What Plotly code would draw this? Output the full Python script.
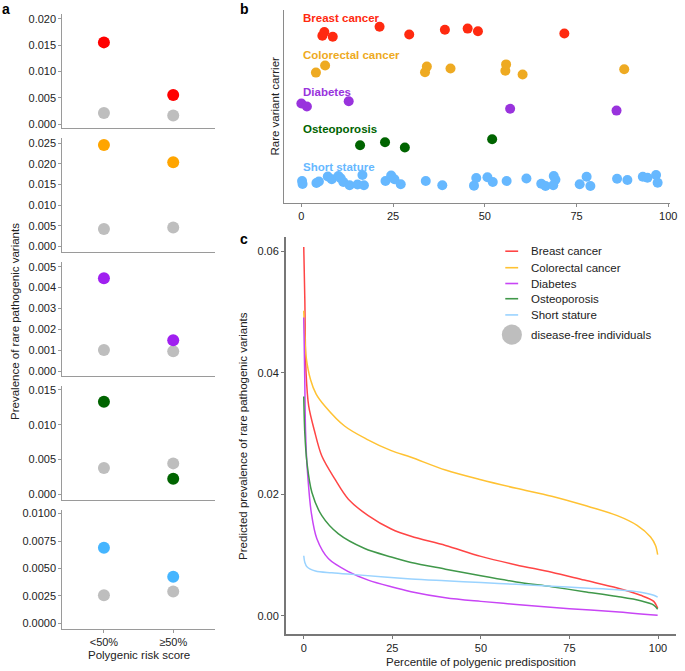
import plotly.graph_objects as go

W, H = 685, 671

# ---------------- data ----------------
risk_groups = ["<50%", "≥50%"]
diseases = ["Breast cancer", "Colorectal cancer", "Diabetes", "Osteoporosis", "Short stature"]

# panel a: prevalence of rare pathogenic variants (carriers of disease vs disease-free)
breast_case = [0.0155, 0.0055]
breast_free = [0.0021, 0.0016]
colorectal_case = [0.0246, 0.0204]
colorectal_free = [0.0042, 0.0046]
diabetes_case = [0.00445, 0.00148]
diabetes_free = [0.00102, 0.00096]
osteo_case = [0.0133, 0.00225]
osteo_free = [0.0038, 0.00446]
stature_case = [0.0069, 0.00425]
stature_free = [0.00256, 0.0029]

# panel b: percentile of rare variant carriers (y = row + jitter)
breast_pct = [5.72, 6.26, 8.55, 21.31, 29.40, 39.12, 45.32, 48.13, 71.68]
breast_row = [4.87, 4.97, 4.84, 5.11, 4.90, 5.03, 5.06, 4.99, 4.93]
colorectal_pct = [3.97, 6.47, 33.7, 34.2, 40.65, 55.6, 55.8, 60.3, 88.0]
colorectal_row = [3.88, 4.07, 3.89, 4.04, 3.99, 3.93, 4.10, 3.83, 3.97]
diabetes_pct = [0.0, 1.5, 12.9, 56.9, 85.9]
diabetes_row = [3.05, 2.97, 3.11, 2.91, 2.86]
osteo_pct = [16.0, 22.8, 28.2, 52.0]
osteo_row = [1.93, 2.01, 1.87, 2.09]
stature_pct = [0.19, 0.32, 4.10, 4.77, 7.20, 8.28, 10.09, 10.71, 11.44, 13.14, 15.30,
               16.64, 17.05, 22.93, 24.47, 25.36, 27.08, 33.91, 38.41, 47.05, 47.67,
               50.72, 52.17, 55.95, 61.34, 65.39, 66.55, 68.79, 69.25, 68.65, 75.86,
               77.75, 78.77, 86.05, 88.86, 93.07, 94.33, 96.68, 97.11]
stature_row = [0.973, 0.893, 0.92, 0.96, 1.093, 1.019, 1.107, 1.045, 0.947, 0.859, 0.88,
               1.133, 0.859, 0.973, 1.12, 1.019, 0.885, 0.973, 0.859, 0.848, 1.053,
               1.075, 0.947, 0.973, 1.04, 0.899, 0.84, 1.107, 1.005, 0.859, 0.885,
               1.085, 0.84, 1.032, 1.0, 1.085, 1.061, 1.133, 0.928]

# panel c: predicted prevalence vs percentile
breast_c_x = [0, 0.3, 0.65, 1.4, 3.0, 5.1, 8.8, 12.6, 18.2, 24.7, 30.3, 40, 50, 60, 70, 79.2, 88.5, 95.1, 98.8, 99.9]
breast_c_y = [0.0607, 0.052, 0.040, 0.0345, 0.0305, 0.0263, 0.0225, 0.0192, 0.0165, 0.0143, 0.0131,
              0.0116, 0.0098, 0.0084, 0.0072, 0.0059, 0.0046, 0.0034, 0.0024, 0.0013]
colorectal_c_x = [0, 0.3, 0.65, 1.9, 3.5, 6.0, 11.6, 17.7, 24.7, 30.3, 40, 50, 60, 70, 79.2, 88.5, 94.1, 97.9, 99.3, 99.9]
colorectal_c_y = [0.0502, 0.046, 0.0427, 0.0389, 0.0365, 0.0345, 0.0312, 0.0291, 0.0272, 0.0261, 0.0240,
                  0.0224, 0.0210, 0.0197, 0.0182, 0.0165, 0.0149, 0.0130, 0.0116, 0.0101]
diabetes_c_x = [0, 0.15, 0.3, 0.5, 0.8, 1.2, 2.1, 3.7, 7.0, 12.6, 18.2, 24.7, 30.3, 40, 50, 60, 75, 88, 99.9]
diabetes_c_y = [0.0491, 0.044, 0.038, 0.0305, 0.026, 0.0225, 0.0171, 0.0127, 0.0094, 0.0073, 0.0059,
                0.0048, 0.0040, 0.0030, 0.0024, 0.0019, 0.0012, 0.0007, 0.0001]
osteo_c_x = [0, 0.3, 0.9, 2.3, 5.1, 9.8, 17.2, 24.7, 30.3, 40, 50, 60, 70, 79.2, 88.5, 95.1, 98.8, 99.9]
osteo_c_y = [0.0361, 0.030, 0.0252, 0.0203, 0.0165, 0.0135, 0.0111, 0.0097, 0.0088, 0.0077, 0.0066,
             0.0056, 0.0048, 0.0040, 0.0032, 0.0025, 0.0018, 0.0011]
stature_c_x = [0, 0.3, 0.9, 3.3, 7.9, 14.4, 30.3, 40, 50, 60, 70, 79.2, 88.5, 95.1, 98.8, 99.9]
stature_c_y = [0.0099, 0.0088, 0.0081, 0.0074, 0.0071, 0.0068, 0.0061, 0.0058, 0.0055, 0.0052,
               0.0049, 0.0046, 0.0043, 0.0039, 0.0034, 0.0031]

# ---------------- styling ----------------
FONT = "Liberation Sans, Arial, Helvetica, sans-serif"
TXT = "#222222"
GREY = "#BEBEBE"
a_colors = ["#FF0000", "#FFA500", "#A020F0", "#006400", "#45B5FF"]
b_colors = ["#FF2A10", "#EEAA22", "#9933DD", "#006400", "#66B8FF"]
c_colors = ["#FF4545", "#FFC233", "#C845F5", "#40984A", "#9AD3FF"]


def px(x):
    return x / W


def py(y):
    return 1 - y / H


fig = go.Figure()

a_case = [breast_case, colorectal_case, diabetes_case, osteo_case, stature_case]
a_free = [breast_free, colorectal_free, diabetes_free, osteo_free, stature_free]
a_yrange = [[-0.0008, 0.0209], [-0.00125, 0.02625], [-0.00025, 0.00522], [-0.00075, 0.0156], [-0.0005, 0.01036]]
a_dtick = [0.005, 0.005, 0.001, 0.005, 0.0025]
a_fmt = [".3f", ".3f", ".3f", ".3f", ".4f"]
a_dom = [(12, 127), (137, 251), (261.7, 376.7), (386, 500.7), (510.7, 630.7)]

layout = {}
for i in range(5):
    sx = "" if i == 0 else str(i + 1)
    fig.add_trace(go.Scatter(x=risk_groups, y=a_free[i], mode="markers",
                             marker=dict(size=12, color=GREY), xaxis="x" + sx, yaxis="y" + sx,
                             showlegend=False, hoverinfo="skip"))
    fig.add_trace(go.Scatter(x=risk_groups, y=a_case[i], mode="markers",
                             marker=dict(size=12, color=a_colors[i]), xaxis="x" + sx, yaxis="y" + sx,
                             showlegend=False))
    last = i == 4
    layout["xaxis" + sx] = dict(
        domain=[px(63), px(217)], anchor="y" + sx, type="category",
        categoryorder="array", categoryarray=risk_groups, range=[-0.6, 1.6],
        showline=True, linecolor="#9a9a9a", linewidth=1.2, showgrid=False, zeroline=False,
        ticks="outside" if last else "", ticklen=3, tickcolor="#9a9a9a",
        showticklabels=last, tickfont=dict(size=11, color=TXT, family=FONT))
    layout["yaxis" + sx] = dict(
        domain=[py(a_dom[i][1]), py(a_dom[i][0])], anchor="x" + sx, range=a_yrange[i],
        tick0=0, dtick=a_dtick[i], tickformat=a_fmt[i],
        showline=True, linecolor="#9a9a9a", linewidth=1.2, showgrid=False, zeroline=False,
        ticks="outside", ticklen=3, tickcolor="#9a9a9a",
        tickfont=dict(size=11, color=TXT, family=FONT))

# panel b
b_x = [breast_pct, colorectal_pct, diabetes_pct, osteo_pct, stature_pct]
b_y = [breast_row, colorectal_row, diabetes_row, osteo_row, stature_row]
for i in range(5):
    fig.add_trace(go.Scatter(x=b_x[i], y=b_y[i], mode="markers",
                             marker=dict(size=10, color=b_colors[i]),
                             xaxis="x6", yaxis="y6", showlegend=False, name=diseases[i]))
layout["xaxis6"] = dict(domain=[px(286.7), px(677)], anchor="y6", range=[-4.8, 100.5],
                        tickvals=[0, 25, 50, 75, 100], showline=True, linecolor="#8a8a8a",
                        linewidth=1.3, showgrid=False, zeroline=False, ticks="outside", ticklen=3,
                        tickcolor="#8a8a8a", tickfont=dict(size=11, color=TXT, family=FONT))
layout["yaxis6"] = dict(domain=[py(202.3), py(8)], anchor="x6", range=[0.38, 5.56],
                        showline=True, linecolor="#8a8a8a", linewidth=1.3, showgrid=False,
                        zeroline=False, showticklabels=False, ticks="")

# panel c
c_x = [breast_c_x, colorectal_c_x, diabetes_c_x, osteo_c_x, stature_c_x]
c_y = [breast_c_y, colorectal_c_y, diabetes_c_y, osteo_c_y, stature_c_y]
for i in range(5):
    fig.add_trace(go.Scatter(x=c_x[i], y=c_y[i], mode="lines",
                             line=dict(color=c_colors[i], width=1.5, shape="spline", smoothing=0.9),
                             xaxis="x7", yaxis="y7", showlegend=False, name=diseases[i]))
layout["xaxis7"] = dict(domain=[px(289), px(682.7)], anchor="y7", range=[-5, 105],
                        tickvals=[0, 25, 50, 75, 100], showline=True, linecolor="#777777",
                        linewidth=2, showgrid=False, zeroline=False, ticks="outside", ticklen=3,
                        tickcolor="#777777", tickfont=dict(size=11, color=TXT, family=FONT))
layout["yaxis7"] = dict(domain=[py(636), py(236)], anchor="x7", range=[-0.003, 0.0624],
                        tickvals=[0, 0.02, 0.04, 0.06], tickformat=".2f", showline=True,
                        linecolor="#777777", linewidth=2, showgrid=False, zeroline=False,
                        ticks="outside", ticklen=3, tickcolor="#777777",
                        tickfont=dict(size=11, color=TXT, family=FONT))

annotations = []
shapes = []


def note(text, x, y, size=11.5, bold=False, color=TXT, angle=0, xanchor="center", yanchor="middle",
         xref="paper", yref="paper"):
    if bold:
        text = "<b>" + text + "</b>"
    annotations.append(dict(text=text, x=x, y=y, xref=xref, yref=yref, showarrow=False,
                            xanchor=xanchor, yanchor=yanchor, textangle=angle,
                            font=dict(size=size, color=color, family=FONT)))


# panel letters
note("a", px(0), py(7.5), size=14, bold=True, color="#000", xanchor="left")
note("b", px(240), py(7.5), size=14, bold=True, color="#000", xanchor="left")
note("c", px(240), py(238), size=14, bold=True, color="#000", xanchor="left")

# axis titles
note("Prevalence of rare pathogenic variants", px(15), py(321), angle=-90)
note("Polygenic risk score", px(140), py(657))
note("Rare variant carrier", px(278), py(105), angle=-90)
note("Predicted prevalence of rare pathogenic variants", px(246), py(436), angle=-90)
note("Percentile of polygenic predisposition", px(485.8), py(664))

# panel b row labels
rows = [5, 4, 3, 2, 1]
for i in range(5):
    note(diseases[i], 0, rows[i] + 0.355, size=11.5, bold=True, color=b_colors[i],
         xanchor="left", xref="x6", yref="y6")

# panel c legend
leg_y = [250.7, 267.3, 283.2, 298.5, 314.8]
for i in range(5):
    shapes.append(dict(type="line", xref="paper", yref="paper", x0=px(510.5), x1=px(523.5),
                       y0=py(leg_y[i]), y1=py(leg_y[i]), line=dict(color=c_colors[i], width=1.6)))
    note(diseases[i], px(534), py(leg_y[i]), xanchor="left")
shapes.append(dict(type="circle", xref="paper", yref="paper", x0=px(507), x1=px(527.3),
                   y0=py(344.8), y1=py(324.5), fillcolor=GREY, line=dict(width=0)))
note("disease-free individuals", px(534), py(334.5), xanchor="left")

fig.update_layout(width=W, height=H, margin=dict(l=0, r=0, t=0, b=0),
                  paper_bgcolor="white", plot_bgcolor="white",
                  font=dict(family=FONT, size=11, color=TXT),
                  annotations=annotations, shapes=shapes, showlegend=False, **layout)

fig.write_html("out.html", config={"displayModeBar": False},
               post_script="document.body.style.margin='0';document.body.style.overflow='hidden';")
